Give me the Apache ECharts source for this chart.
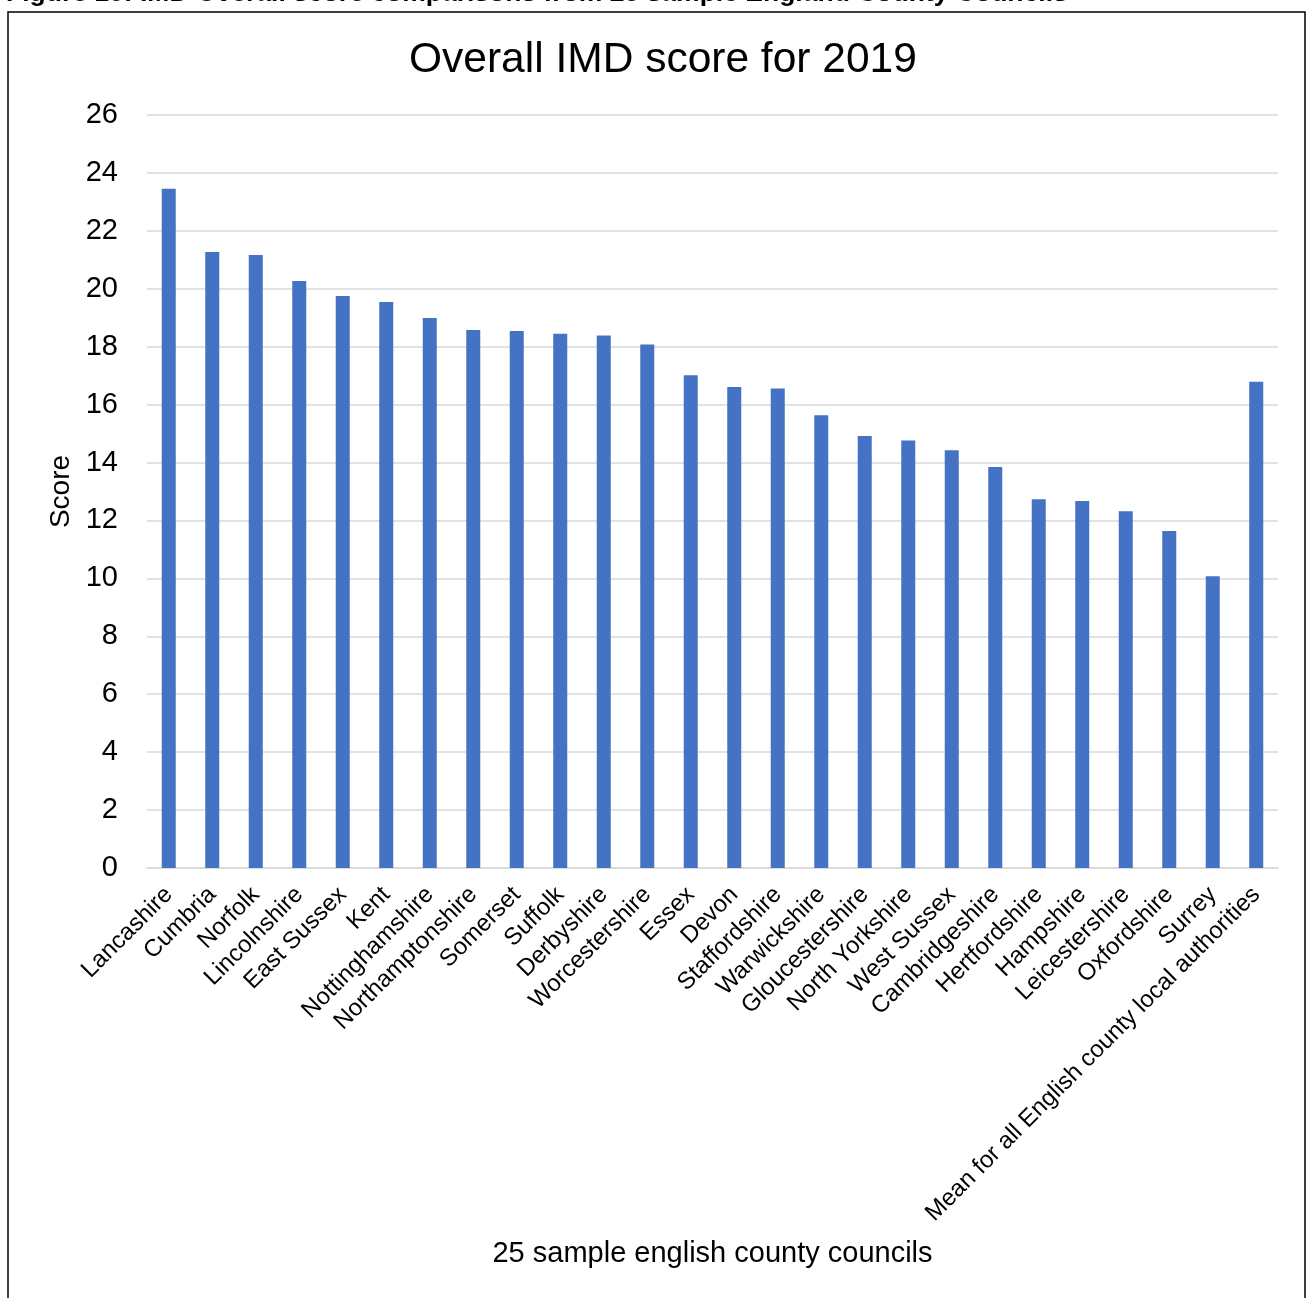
<!DOCTYPE html>
<html>
<head>
<meta charset="utf-8">
<title>Overall IMD score for 2019</title>
<script src="https://cdn.jsdelivr.net/npm/echarts@6/dist/echarts.min.js"></script>
<style>
  html, body { margin: 0; padding: 0; background: #ffffff; }
  #chart { width: 1307px; height: 1298px; }
</style>
</head>
<body>
<div id="chart"></div>
<script>
// County councils, ordered from highest to lowest score, with the national mean last
const councils = [
  'Lancashire', 'Cumbria', 'Norfolk', 'Lincolnshire', 'East Sussex', 'Kent',
  'Nottinghamshire', 'Northamptonshire', 'Somerset', 'Suffolk', 'Derbyshire',
  'Worcestershire', 'Essex', 'Devon', 'Staffordshire', 'Warwickshire',
  'Gloucestershire', 'North Yorkshire', 'West Sussex', 'Cambridgeshire',
  'Hertfordshire', 'Hampshire', 'Leicestershire', 'Oxfordshire', 'Surrey',
  'Mean for all English county local authorities'
];

// Overall IMD score, 2019
const imdScores = [
  23.45, 21.27, 21.17, 20.27, 19.75, 19.54,
  18.99, 18.58, 18.54, 18.45, 18.39,
  18.08, 17.01, 16.61, 16.56, 15.63,
  14.92, 14.76, 14.42, 13.85,
  12.73, 12.67, 12.32, 11.64, 10.07,
  16.79
];

// Score axis range
const scoreMin = 0;
const scoreMax = 26;
const scoreStep = 2;

const FONT = '"Liberation Sans", Arial, Helvetica, sans-serif';

const chart = echarts.init(document.getElementById('chart'), null, { renderer: 'canvas' });

chart.setOption({
  backgroundColor: '#ffffff',
  animation: false,
  textStyle: { fontFamily: FONT, color: '#000000' },
  title: {
    text: 'Overall IMD score for 2019',
    left: 404,
    top: 34,
    textStyle: { fontFamily: FONT, fontSize: 42.5, fontWeight: 'normal', color: '#000000' }
  },
  graphic: [
    {
      type: 'text',
      left: 6,
      top: -20,
      style: {
        text: 'Figure 10: IMD Overall score comparisons from 25 sample England County Councils',
        font: 'bold 26.5px ' + FONT,
        fill: '#000000'
      }
    },
    {
      type: 'polyline',
      shape: { points: [[8, 1310], [8, 12], [1305, 12], [1305, 1310]] },
      style: { stroke: '#000000', lineWidth: 1.5, fill: null }
    }
  ],
  grid: { left: 147, right: 29, top: 115, bottom: 430, containLabel: false },
  xAxis: {
    type: 'category',
    data: councils,
    name: '25 sample english county councils',
    nameLocation: 'middle',
    nameGap: 371,
    nameTextStyle: { fontFamily: FONT, fontSize: 29, color: '#000000' },
    axisLine: { show: true, lineStyle: { color: '#d9d9d9', width: 1.5 } },
    axisTick: { show: false },
    axisLabel: {
      interval: 0,
      rotate: 45,
      margin: 23,
      fontFamily: FONT,
      fontSize: 24,
      color: '#000000'
    }
  },
  yAxis: {
    type: 'value',
    min: scoreMin,
    max: scoreMax,
    interval: scoreStep,
    name: 'Score',
    nameLocation: 'middle',
    nameGap: 72,
    nameTextStyle: { fontFamily: FONT, fontSize: 28, color: '#000000' },
    axisLine: { show: false },
    axisTick: { show: false },
    axisLabel: { margin: 29, fontFamily: FONT, fontSize: 29, color: '#000000' },
    splitLine: { show: true, lineStyle: { color: '#d9d9d9', width: 1.5 } }
  },
  series: [
    {
      type: 'bar',
      data: imdScores,
      barWidth: 14,
      itemStyle: { color: '#4472c4' }
    }
  ]
});
</script>
</body>
</html>
